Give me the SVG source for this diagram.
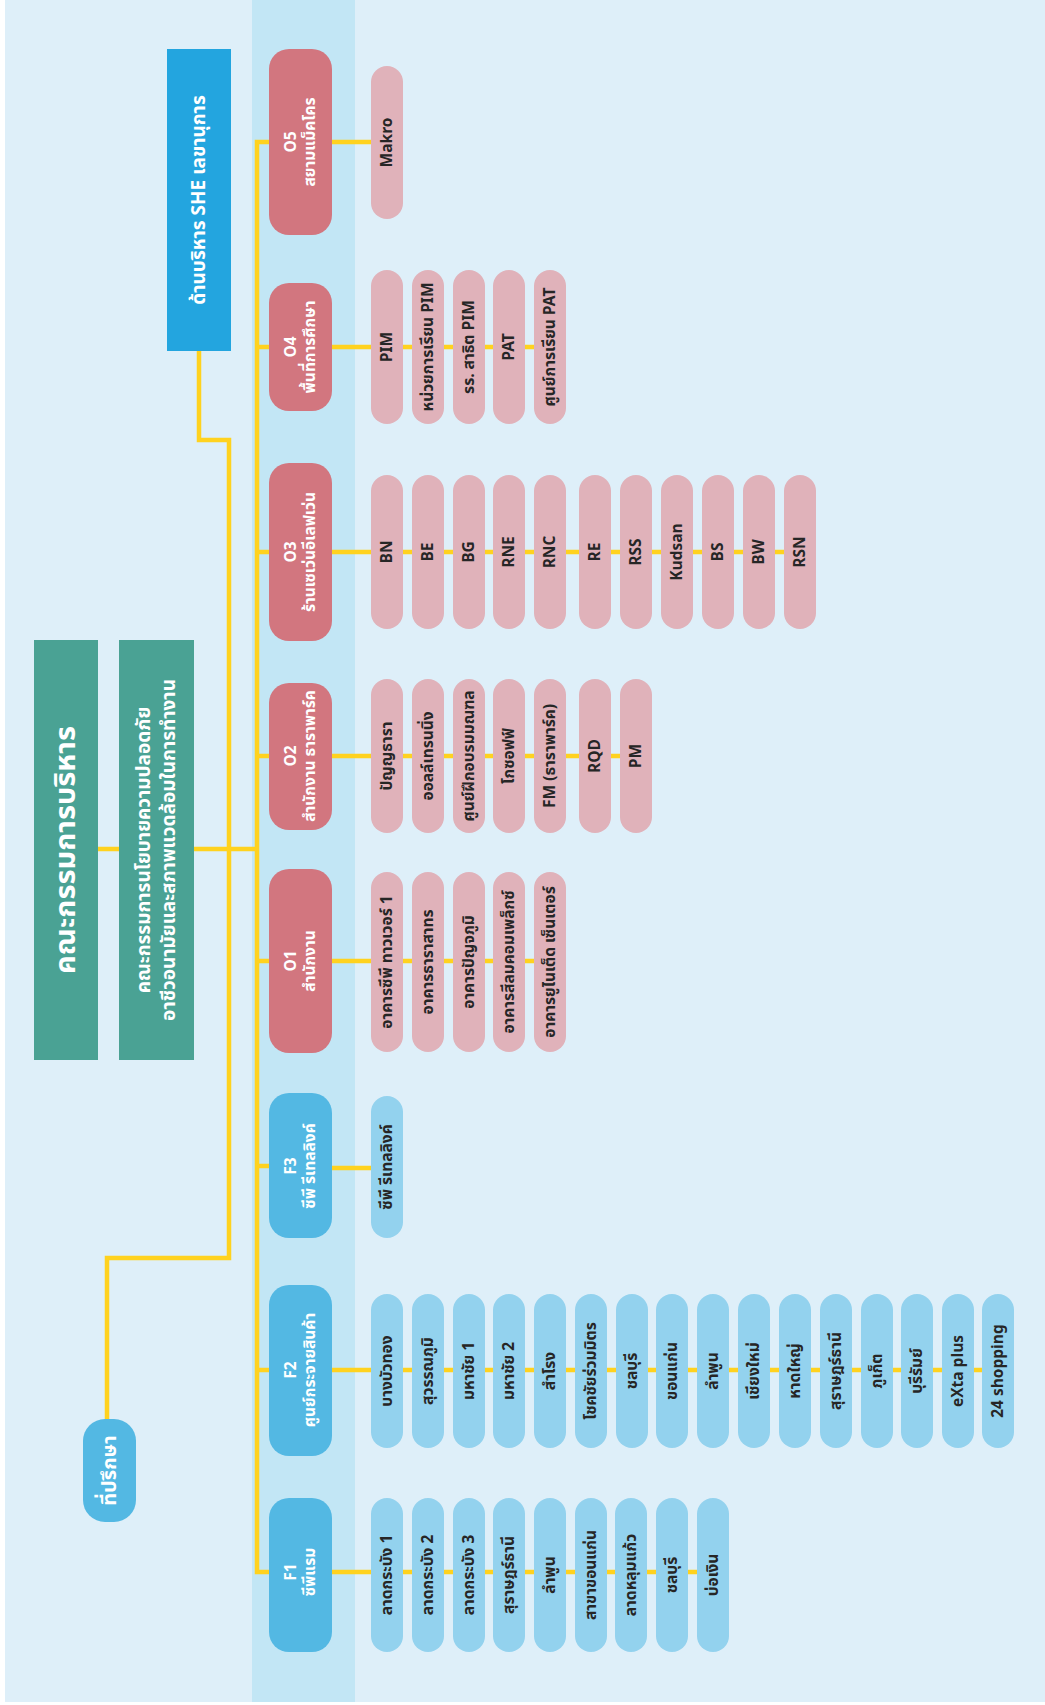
<svg xmlns="http://www.w3.org/2000/svg" width="1045" height="1705" viewBox="0 0 1045 1705">
  <defs>
    <style>
      text { font-family: "Noto Sans Thai", "Noto Sans", "DejaVu Sans", sans-serif; font-weight: bold; text-anchor: middle; dominant-baseline: central; }
      .link { fill: none; stroke: #FFD21F; stroke-width: 4.5; }
      .board { fill: #4AA294; }
      .she { fill: #23A5DF; }
      .onode { fill: #D2767F; }
      .fnode { fill: #53B8E3; }
      .opill { fill: #E0B2BA; }
      .fpill { fill: #93D2EE; }
      .wt { fill: #FFFFFF; }
      .nt { fill: #FFFFFF; font-size: 15.5px; }
      .pt { fill: #262626; font-size: 15.5px; }
    </style>
  </defs>

  <!-- backdrop and central column band -->
  <rect x="0" y="0" width="1045" height="1705" fill="#FFFFFF"/>
  <rect x="5" y="0" width="1040" height="1702" fill="#DEEFF9"/>
  <rect x="252" y="0" width="103" height="1702" fill="#C2E6F5"/>

  <!-- connectors -->
  <g id="connectors">
    <path class="link" d="M269,142 H257 V1572 H269"/>
    <path class="link" d="M257,347 H269 M257,552 H269 M257,756 H269 M257,961 H269 M257,1166 H269 M257,1370 H269"/>
    <path class="link" d="M98,849 H119 M194,849 H257"/>
    <path class="link" d="M199,351 V440 H229 V1258 H107 V1419"/>
    <path class="link" d="M332,142 H387"/>
    <path class="link" d="M332,347 H550"/>
    <path class="link" d="M332,552 H800"/>
    <path class="link" d="M332,756 H636"/>
    <path class="link" d="M332,961 H550"/>
    <path class="link" d="M332,1168 H387"/>
    <path class="link" d="M332,1370 H998"/>
    <path class="link" d="M332,1572 H713"/>
  </g>

  <!-- top level boards -->
  <g id="board-exec">
    <rect class="board" x="34" y="640" width="64" height="420"/>
    <text class="wt" font-size="29" transform="translate(66,850) rotate(-90)">คณะกรรมการบริหาร</text>
  </g>
  <g id="board-she">
    <rect class="board" x="119" y="640" width="75" height="420"/>
    <text class="wt" font-size="19" transform="translate(156.5,850) rotate(-90)"><tspan x="0" y="-12.5">คณะกรรมการนโยบายความปลอดภัย</tspan><tspan x="0" y="12.5">อาชีวอนามัยและสภาพแวดล้อมในการทำงาน</tspan></text>
  </g>
  <g id="she-secretary">
    <rect class="she" x="167" y="49" width="64" height="302"/>
    <text class="wt" font-size="19" transform="translate(199,200) rotate(-90)">ด้านบริหาร SHE เลขานุการ</text>
  </g>
  <g id="advisor">
    <rect class="fnode" x="83" y="1419" width="53" height="103" rx="22"/>
    <text class="wt" font-size="20" transform="translate(109.5,1470.5) rotate(-90)">ที่ปรึกษา</text>
  </g>

  <!-- O5 -->
  <g id="o5">
    <rect class="onode" x="269" y="49" width="63" height="186" rx="20"/>
    <text class="nt" transform="translate(300.5,142) rotate(-90)"><tspan x="0" y="-10">O5</tspan><tspan x="0" y="9">สยามแม็คโคร</tspan></text>
  </g>
  <g id="o5-items">
    <rect class="opill" x="371" y="66" width="32" height="153" rx="16"/>
    <text class="pt" transform="translate(387,142.5) rotate(-90)">Makro</text>
  </g>

  <!-- O4 -->
  <g id="o4">
    <rect class="onode" x="269" y="283" width="63" height="128" rx="20"/>
    <text class="nt" transform="translate(300.5,347) rotate(-90)"><tspan x="0" y="-10">O4</tspan><tspan x="0" y="9">พื้นที่การศึกษา</tspan></text>
  </g>
  <g id="o4-items">
    <rect class="opill" x="371" y="270" width="32" height="154" rx="16"/>
    <rect class="opill" x="412" y="270" width="32" height="154" rx="16"/>
    <rect class="opill" x="453" y="270" width="32" height="154" rx="16"/>
    <rect class="opill" x="493" y="270" width="32" height="154" rx="16"/>
    <rect class="opill" x="534" y="270" width="32" height="154" rx="16"/>
    <text class="pt" transform="translate(387,347) rotate(-90)">PIM</text>
    <text class="pt" transform="translate(428,347) rotate(-90)">หน่วยการเรียน PIM</text>
    <text class="pt" transform="translate(469,347) rotate(-90)">รร. สาธิต PIM</text>
    <text class="pt" transform="translate(509,347) rotate(-90)">PAT</text>
    <text class="pt" transform="translate(550,347) rotate(-90)">ศูนย์การเรียน PAT</text>
  </g>

  <!-- O3 -->
  <g id="o3">
    <rect class="onode" x="269" y="463" width="63" height="178" rx="20"/>
    <text class="nt" transform="translate(300.5,552) rotate(-90)"><tspan x="0" y="-10">O3</tspan><tspan x="0" y="9">ร้านเซเว่นอีเลฟเว่น</tspan></text>
  </g>
  <g id="o3-items">
    <rect class="opill" x="371" y="475" width="32" height="154" rx="16"/>
    <rect class="opill" x="412" y="475" width="32" height="154" rx="16"/>
    <rect class="opill" x="453" y="475" width="32" height="154" rx="16"/>
    <rect class="opill" x="493" y="475" width="32" height="154" rx="16"/>
    <rect class="opill" x="534" y="475" width="32" height="154" rx="16"/>
    <rect class="opill" x="579" y="475" width="32" height="154" rx="16"/>
    <rect class="opill" x="620" y="475" width="32" height="154" rx="16"/>
    <rect class="opill" x="661" y="475" width="32" height="154" rx="16"/>
    <rect class="opill" x="702" y="475" width="32" height="154" rx="16"/>
    <rect class="opill" x="743" y="475" width="32" height="154" rx="16"/>
    <rect class="opill" x="784" y="475" width="32" height="154" rx="16"/>
    <text class="pt" transform="translate(387,552) rotate(-90)">BN</text>
    <text class="pt" transform="translate(428,552) rotate(-90)">BE</text>
    <text class="pt" transform="translate(469,552) rotate(-90)">BG</text>
    <text class="pt" transform="translate(509,552) rotate(-90)">RNE</text>
    <text class="pt" transform="translate(550,552) rotate(-90)">RNC</text>
    <text class="pt" transform="translate(595,552) rotate(-90)">RE</text>
    <text class="pt" transform="translate(636,552) rotate(-90)">RSS</text>
    <text class="pt" transform="translate(677,552) rotate(-90)">Kudsan</text>
    <text class="pt" transform="translate(718,552) rotate(-90)">BS</text>
    <text class="pt" transform="translate(759,552) rotate(-90)">BW</text>
    <text class="pt" transform="translate(800,552) rotate(-90)">RSN</text>
  </g>

  <!-- O2 -->
  <g id="o2">
    <rect class="onode" x="269" y="683" width="63" height="147" rx="20"/>
    <text class="nt" transform="translate(300.5,756) rotate(-90)"><tspan x="0" y="-10">O2</tspan><tspan x="0" y="9">สำนักงาน ธาราพาร์ค</tspan></text>
  </g>
  <g id="o2-items">
    <rect class="opill" x="371" y="679" width="32" height="154" rx="16"/>
    <rect class="opill" x="412" y="679" width="32" height="154" rx="16"/>
    <rect class="opill" x="453" y="679" width="32" height="154" rx="16"/>
    <rect class="opill" x="493" y="679" width="32" height="154" rx="16"/>
    <rect class="opill" x="534" y="679" width="32" height="154" rx="16"/>
    <rect class="opill" x="579" y="679" width="32" height="154" rx="16"/>
    <rect class="opill" x="620" y="679" width="32" height="154" rx="16"/>
    <text class="pt" transform="translate(387,756) rotate(-90)">ปัญญธารา</text>
    <text class="pt" transform="translate(428,756) rotate(-90)">ออลล์เทรนนิ่ง</text>
    <text class="pt" transform="translate(469,756) rotate(-90)">ศูนย์ฝึกอบรมมณฑล</text>
    <text class="pt" transform="translate(509,756) rotate(-90)">โกซอฟฟ์</text>
    <text class="pt" transform="translate(550,756) rotate(-90)">FM (ธาราพาร์ค)</text>
    <text class="pt" transform="translate(595,756) rotate(-90)">RQD</text>
    <text class="pt" transform="translate(636,756) rotate(-90)">PM</text>
  </g>

  <!-- O1 -->
  <g id="o1">
    <rect class="onode" x="269" y="869" width="63" height="184" rx="20"/>
    <text class="nt" transform="translate(300.5,961) rotate(-90)"><tspan x="0" y="-10">O1</tspan><tspan x="0" y="9">สำนักงาน</tspan></text>
  </g>
  <g id="o1-items">
    <rect class="opill" x="371" y="872" width="32" height="180" rx="16"/>
    <rect class="opill" x="412" y="872" width="32" height="180" rx="16"/>
    <rect class="opill" x="453" y="872" width="32" height="180" rx="16"/>
    <rect class="opill" x="493" y="872" width="32" height="180" rx="16"/>
    <rect class="opill" x="534" y="872" width="32" height="180" rx="16"/>
    <text class="pt" transform="translate(387,962) rotate(-90)">อาคารซีพี ทาวเวอร์ 1</text>
    <text class="pt" transform="translate(428,962) rotate(-90)">อาคารธาราสาทร</text>
    <text class="pt" transform="translate(469,962) rotate(-90)">อาคารปัญจภูมิ</text>
    <text class="pt" transform="translate(509,962) rotate(-90)">อาคารสีลมคอมเพล็กซ์</text>
    <text class="pt" transform="translate(550,962) rotate(-90)">อาคารยูไนเต็ด เซ็นเตอร์</text>
  </g>

  <!-- F3 -->
  <g id="f3">
    <rect class="fnode" x="269" y="1093" width="63" height="145" rx="20"/>
    <text class="nt" transform="translate(300.5,1166) rotate(-90)"><tspan x="0" y="-10">F3</tspan><tspan x="0" y="9">ซีพี รีเทลลิงค์</tspan></text>
  </g>
  <g id="f3-items">
    <rect class="fpill" x="371" y="1096" width="32" height="142" rx="16"/>
    <text class="pt" transform="translate(387,1167) rotate(-90)">ซีพี รีเทลลิงค์</text>
  </g>

  <!-- F2 -->
  <g id="f2">
    <rect class="fnode" x="269" y="1285" width="63" height="171" rx="20"/>
    <text class="nt" transform="translate(300.5,1370) rotate(-90)"><tspan x="0" y="-10">F2</tspan><tspan x="0" y="9">ศูนย์กระจายสินค้า</tspan></text>
  </g>
  <g id="f2-items">
    <rect class="fpill" x="371" y="1294" width="32" height="154" rx="16"/>
    <rect class="fpill" x="412" y="1294" width="32" height="154" rx="16"/>
    <rect class="fpill" x="453" y="1294" width="32" height="154" rx="16"/>
    <rect class="fpill" x="493" y="1294" width="32" height="154" rx="16"/>
    <rect class="fpill" x="534" y="1294" width="32" height="154" rx="16"/>
    <rect class="fpill" x="575" y="1294" width="32" height="154" rx="16"/>
    <rect class="fpill" x="616" y="1294" width="32" height="154" rx="16"/>
    <rect class="fpill" x="656" y="1294" width="32" height="154" rx="16"/>
    <rect class="fpill" x="697" y="1294" width="32" height="154" rx="16"/>
    <rect class="fpill" x="738" y="1294" width="32" height="154" rx="16"/>
    <rect class="fpill" x="779" y="1294" width="32" height="154" rx="16"/>
    <rect class="fpill" x="820" y="1294" width="32" height="154" rx="16"/>
    <rect class="fpill" x="861" y="1294" width="32" height="154" rx="16"/>
    <rect class="fpill" x="901" y="1294" width="32" height="154" rx="16"/>
    <rect class="fpill" x="942" y="1294" width="32" height="154" rx="16"/>
    <rect class="fpill" x="982" y="1294" width="32" height="154" rx="16"/>
    <text class="pt" transform="translate(387,1371) rotate(-90)">บางบัวทอง</text>
    <text class="pt" transform="translate(428,1371) rotate(-90)">สุวรรณภูมิ</text>
    <text class="pt" transform="translate(469,1371) rotate(-90)">มหาชัย  1</text>
    <text class="pt" transform="translate(509,1371) rotate(-90)">มหาชัย  2</text>
    <text class="pt" transform="translate(550,1371) rotate(-90)">สำโรง</text>
    <text class="pt" transform="translate(591,1371) rotate(-90)">โชคชัยร่วมมิตร</text>
    <text class="pt" transform="translate(632,1371) rotate(-90)">ชลบุรี</text>
    <text class="pt" transform="translate(672,1371) rotate(-90)">ขอนแก่น</text>
    <text class="pt" transform="translate(713,1371) rotate(-90)">ลำพูน</text>
    <text class="pt" transform="translate(754,1371) rotate(-90)">เชียงใหม่</text>
    <text class="pt" transform="translate(795,1371) rotate(-90)">หาดใหญ่</text>
    <text class="pt" transform="translate(836,1371) rotate(-90)">สุราษฎร์ธานี</text>
    <text class="pt" transform="translate(877,1371) rotate(-90)">ภูเก็ต</text>
    <text class="pt" transform="translate(917,1371) rotate(-90)">บุรีรัมย์</text>
    <text class="pt" transform="translate(958,1371) rotate(-90)">eXta plus</text>
    <text class="pt" transform="translate(998,1371) rotate(-90)">24 shopping</text>
  </g>

  <!-- F1 -->
  <g id="f1">
    <rect class="fnode" x="269" y="1498" width="63" height="154" rx="20"/>
    <text class="nt" transform="translate(300.5,1572) rotate(-90)"><tspan x="0" y="-10">F1</tspan><tspan x="0" y="9">ซีพีแรม</tspan></text>
  </g>
  <g id="f1-items">
    <rect class="fpill" x="371" y="1498" width="32" height="154" rx="16"/>
    <rect class="fpill" x="412" y="1498" width="32" height="154" rx="16"/>
    <rect class="fpill" x="453" y="1498" width="32" height="154" rx="16"/>
    <rect class="fpill" x="493" y="1498" width="32" height="154" rx="16"/>
    <rect class="fpill" x="534" y="1498" width="32" height="154" rx="16"/>
    <rect class="fpill" x="575" y="1498" width="32" height="154" rx="16"/>
    <rect class="fpill" x="615" y="1498" width="32" height="154" rx="16"/>
    <rect class="fpill" x="656" y="1498" width="32" height="154" rx="16"/>
    <rect class="fpill" x="697" y="1498" width="32" height="154" rx="16"/>
    <text class="pt" transform="translate(387,1575) rotate(-90)">ลาดกระบัง  1</text>
    <text class="pt" transform="translate(428,1575) rotate(-90)">ลาดกระบัง  2</text>
    <text class="pt" transform="translate(469,1575) rotate(-90)">ลาดกระบัง  3</text>
    <text class="pt" transform="translate(509,1575) rotate(-90)">สุราษฎร์ธานี</text>
    <text class="pt" transform="translate(550,1575) rotate(-90)">ลำพูน</text>
    <text class="pt" transform="translate(591,1575) rotate(-90)">สาขาขอนแก่น</text>
    <text class="pt" transform="translate(631,1575) rotate(-90)">ลาดหลุมแก้ว</text>
    <text class="pt" transform="translate(672,1575) rotate(-90)">ชลบุรี</text>
    <text class="pt" transform="translate(713,1575) rotate(-90)">บ่อเงิน</text>
  </g>
</svg>
